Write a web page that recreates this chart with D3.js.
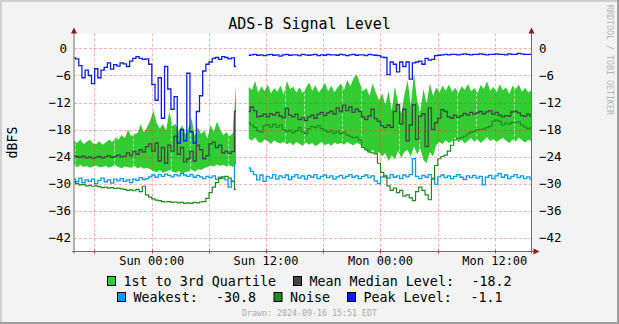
<!DOCTYPE html>
<html>
<head>
<meta charset="utf-8">
<script src="https://cdn.jsdelivr.net/npm/d3@7"></script>
<style>
  html, body { margin: 0; padding: 0; background: #f3f3f3; }
  svg { display: block; font-family: "DejaVu Sans Mono", monospace; }
</style>
</head>
<body>
<svg id="chart" width="619" height="324"></svg>
<script>
// Time window: two days ending at the draw time, one sample every 20 minutes
const startTime = new Date(2024, 8, 14, 15, 51);
const endTime = new Date(2024, 8, 16, 15, 51);
const stepMinutes = 20;

// 3rd quartile (top of the band), dBFS; null = no data
const q3 = [
  -20.5, -21.0, -20.2, -21.3, -20.7, -20.3, -21.1, -21.2, -20.6, -21.4, -20.9, -20.2,
  -20.8, -19.8, -20.3, -19.2, -19.9, -18.0, -19.5, -19.0, -18.8, -16.8, -18.6, -17.5,
  -16.0, -13.8, -16.5, -17.8, -16.8, -18.2, -14.0, -17.2, -16.8, -18.5, -17.0, -19.0,
  -17.8, -15.5, -19.5, -17.5, -19.0, -18.2, -20.0, -17.0, -18.5, -16.2, -18.0, -19.2,
  -18.6, -19.5, -18.8, -8.0, null, null, null, -8.5, -9.2, -7.2, -9.8, -8.4,
  -9.5, -8.0, -10.0, -8.8, -9.6, -8.2, -10.2, -7.2, -9.0, -8.5, -9.8, -8.6,
  -9.9, -8.8, -7.5, -9.4, -8.2, -9.8, -8.9, -7.6, -9.5, -8.3, -9.7, -8.6,
  -7.8, -9.2, -7.0, -8.4, -6.6, -5.8, -7.8, -9.5, -8.8, -10.5, -7.8, -9.8,
  -11.5, -10.0, -12.5, -9.5, -13.8, -8.5, -12.0, -14.5, -10.2, -7.0, -12.8, -5.5,
  -11.5, -14.0, -9.0, -12.2, -7.8, -10.5, -8.6, -9.8, -8.2, -9.4, -8.0, -9.6,
  -8.7, -10.0, -8.4, -9.2, -7.9, -9.5, -8.8, -9.9, -8.1, -9.0, -7.3, -9.4,
  -8.5, -9.7, -8.0, -9.3, -8.6, -10.1, -8.3, -9.0, -8.0, -9.6, -8.7, -9.8,
  -9.2
];

// 1st quartile (bottom of the band)
const q1 = [
  -26.0, -26.4, -25.9, -26.3, -26.1, -26.5, -26.2, -26.0, -26.4, -26.3, -26.1, -26.5,
  -26.2, -26.0, -26.3, -26.6, -26.2, -26.4, -26.5, -26.1, -26.6, -26.3, -26.7, -26.5,
  -26.8, -27.2, -27.5, -27.0, -27.6, -27.3, -27.0, -27.4, -27.6, -27.2, -27.8, -27.5,
  -27.3, -26.9, -27.4, -26.8, -27.0, -26.6, -26.3, -26.0, -26.2, -25.8, -26.1, -25.9,
  -26.2, -26.0, -26.3, -25.5, null, null, null, -20.0, -20.5, -19.8, -20.8, -21.0,
  -20.2, -20.6, -21.2, -20.4, -20.9, -21.1, -20.7, -21.3, -20.9, -21.5, -20.8, -21.2,
  -21.6, -20.9, -21.4, -21.0, -21.7, -21.2, -20.8, -21.5, -21.1, -21.6, -20.9, -21.3,
  -21.0, -21.4, -20.8, -21.2, -21.5, -21.0, -21.3, -22.0, -22.8, -23.2, -22.5, -23.5,
  -23.0, -24.0, -23.2, -25.0, -23.8, -24.6, -22.8, -24.2, -23.0, -22.5, -24.0, -21.8,
  -23.5, -22.2, -24.8, -25.5, -23.0, -24.0, -21.5, -20.8, -21.2, -20.4, -21.0, -20.6,
  -19.8, -20.9, -20.3, -21.1, -20.5, -19.9, -20.7, -20.2, -21.0, -20.4, -19.7, -20.6,
  -20.1, -20.8, -20.3, -19.9, -20.5, -21.0, -20.2, -20.7, -19.8, -20.4, -20.9, -20.3,
  -20.6
];

// Median level
const median = [
  -23.8, -24.0, -24.2, -23.9, -24.3, -24.1, -24.4, -24.2, -24.0, -24.3, -24.1, -23.8,
  -24.2, -24.0, -23.7, -24.1, -23.9, -23.2, -23.8, -22.8, -23.5, -22.5, -23.0, -21.8,
  -21.2, -22.8, -21.0, -25.0, -22.0, -25.5, -21.5, -22.8, -19.5, -23.5, -22.0, -25.2,
  -24.5, -22.8, -25.0, -21.5, -22.5, -24.5, -23.8, -21.2, -20.8, -22.0, -21.5, -23.2,
  -22.8, -23.3, -22.9, -14.0, null, null, null, -14.0, -13.0, -13.8, -15.2, -15.0,
  -14.6, -15.2, -14.5, -14.8, -14.2, -15.0, -15.4, -13.3, -14.8, -15.2, -14.6, -15.8,
  -15.4, -16.0, -15.2, -14.8, -15.5, -14.6, -14.2, -14.9, -14.3, -13.9, -14.6, -13.2,
  -14.0, -12.6, -13.8, -13.0, -14.2, -13.5, -14.0, -15.2, -15.8, -15.0, -13.5, -15.6,
  -16.2, -17.2, -17.6, -17.0, -17.5, -14.0, -12.5, -16.8, -13.5, -20.5, -17.0, -12.5,
  -20.2, -15.0, -14.5, -21.8, -13.2, -18.0, -16.5, -15.5, -13.6, -14.0, -15.2, -15.5,
  -14.8, -15.3, -14.9, -14.4, -14.8, -14.2, -14.6, -14.3, -14.0, -14.5, -14.1, -13.8,
  -14.6, -14.2, -14.8, -15.2, -14.9, -15.0, -14.1, -13.9, -14.3, -14.9, -15.1, -14.6,
  -15.0
];

// Weakest signal
const weakest = [
  -29.0, -29.6, -28.8, -29.8, -29.2, -29.5, -29.0, -30.0, -29.3, -28.8, -29.6, -29.2,
  -29.9, -29.0, -29.4, -28.9, -29.5, -29.2, -29.8, -29.0, -29.3, -28.7, -29.1, -28.9,
  -28.5, -28.1, -28.6, -28.0, -28.4, -27.9, -28.2, -28.5, -28.0, -28.3, -27.8, -28.1,
  -28.4, -28.0, -28.6, -28.2, -28.5, -28.9, -28.4, -28.7, -28.3, -29.0, -28.6, -28.8,
  -29.2, -30.8, -29.4, -25.5, null, null, null, -26.5, -27.3, -28.0, -29.2, -28.1,
  -29.5, -28.4, -28.8, -28.0, -29.0, -28.3, -28.7, -28.1, -29.1, -28.5, -28.0, -28.8,
  -28.3, -29.0, -28.2, -28.6, -28.0, -28.9, -28.4, -28.1, -28.7, -28.3, -29.0, -28.5,
  -28.2, -28.8, -28.4, -28.0, -28.6, -28.3, -28.9, -28.4, -28.1, -28.7, -28.3, -29.4,
  -30.0, -28.5, -28.2, -28.8, -28.0, -28.6, -28.3, -28.9, -28.1, -28.5, -28.0, -24.5,
  -28.4, -28.9, -28.2, -28.6, -28.0, -28.8, -30.2, -28.5, -28.1, -28.7, -28.3, -28.9,
  -28.4, -28.0, -28.6, -29.1, -28.3, -28.7, -28.2, -28.8, -28.4, -30.3, -28.6, -28.2,
  -28.9, -28.3, -27.8, -28.6, -28.1, -28.9, -28.4, -28.0, -28.7, -28.3, -28.9, -28.5,
  -29.0
];

// Noise floor
const noise = [
  -29.7, -30.0, -30.3, -30.2, -30.5, -30.4, -30.6, -30.5, -30.7, -30.9, -30.8, -31.0,
  -30.9, -31.1, -31.0, -31.2, -31.3, -31.5, -31.4, -31.6, -31.3, -31.8, -30.6, -32.5,
  -33.0, -33.4, -33.7, -33.8, -34.0, -34.1, -34.0, -34.2, -34.1, -34.3, -34.2, -34.4,
  -34.3, -34.4, -34.2, -34.3, -34.1, -34.0, -33.3, -32.0, -30.8, -29.8, -28.9, -28.5,
  -28.4, -28.8, -29.6, -31.3, null, null, null, -16.5, -17.0, -17.6, -18.3, -18.6,
  -17.2, -16.9, -17.4, -16.8, -17.5, -17.0, -18.0, -18.4, -18.2, -18.7, -18.3, -17.6,
  -18.5, -18.9, -17.8, -17.3, -17.6, -17.2, -17.8, -18.2, -18.6, -18.3, -18.8, -18.4,
  -18.9, -18.6, -19.2, -19.5, -19.8, -19.7, -20.3, -22.0, -22.5, -23.0, -23.2, -23.4,
  -25.5, -27.5, -28.5, -30.5, -31.5, -31.0, -32.0, -31.5, -32.8, -32.5, -33.2, -33.8,
  -31.8, -30.8, -31.5, -32.5, -33.6, -29.0, -26.0, -24.5, -24.0, -23.7, -22.8, -21.5,
  -20.3, -20.0, -19.8, -19.5, -19.0, -18.6, -18.4, -18.1, -18.0, -17.9, -17.6, -17.3,
  -16.2, -15.9, -16.2, -17.0, -16.6, -16.8, -16.4, -16.5, -16.3, -17.0, -17.4, -17.8,
  -17.6
];

// Peak level
const peak = [
  -2.1, -2.3, -3.8, -6.5, -4.8, -6.0, -7.8, -4.5, -6.5, -4.8, -4.2, -3.2,
  -4.6, -3.6, -3.9, -3.2, -3.4, -4.0, -2.8, -2.2, -1.8, -2.2, -2.4, -2.3,
  -3.5, -8.0, -11.5, -6.5, -15.5, -4.0, -9.0, -13.5, -10.7, -21.0, -18.0, -20.5,
  -5.5, -18.5, -21.0, -14.0, -10.5, -5.0, -3.5, -3.0, -2.2, -2.0, -2.4, -1.8,
  -2.0, -2.3, -2.1, -4.0, null, null, null, -1.5, -1.4, -1.3, -1.5, -1.4,
  -1.6, -1.4, -1.3, -1.5, -1.4, -1.7, -1.4, -1.3, -1.5, -1.4, -1.4, -1.6,
  -1.3, -1.4, -1.5, -1.4, -1.3, -1.6, -1.4, -1.5, -1.3, -1.4, -1.4, -1.5,
  -1.3, -1.4, -1.6, -1.4, -1.3, -1.5, -1.4, -1.4, -1.6, -1.3, -1.4, -1.5,
  -1.6, -1.9, -2.0, -5.8, -3.0, -3.5, -5.2, -3.0, -4.0, -3.0, -6.8, -3.2,
  -3.0, -2.8, -3.5, -2.2, -2.6, -2.4, -1.6, -1.5, -1.4, -1.3, -1.4, -1.3,
  -1.3, -1.4, -1.3, -1.2, -1.3, -1.4, -1.3, -1.3, -1.2, -1.3, -1.4, -1.3,
  -1.3, -1.2, -1.3, -1.3, -1.4, -1.2, -1.3, -1.3, -1.1, -1.2, -1.3, -1.3,
  -1.3
];

// Axis ticks and labels
const yTicks = [0, -6, -12, -18, -24, -30, -36, -42];
const xLabelTimes = ["2024-09-15T00:00", "2024-09-15T12:00", "2024-09-16T00:00", "2024-09-16T12:00"];

// Legend summary values
const meanMedianText = "-18.2";
const weakestText = "-30.8";
const peakText = "-1.1";

const colors = {
  band: "#33cc33",
  median: "#444444",
  weakest: "#0a9be8",
  noise: "#228822",
  peak: "#0b1ef0"
};

const svg = d3.select("#chart");
const W = 619, H = 324;
const plot = { left: 74, right: 531.5, top: 33.5, bottom: 251.5 };

const x = d3.scaleTime().domain([startTime, endTime]).range([plot.left, plot.right]);
const y = d3.scaleLinear().domain([-45.1, 3.33]).range([plot.bottom, plot.top]);

const times = q1.map((_, i) => d3.timeMinute.offset(startTime, i * stepMinutes));
const rows = times.map((t, i) => ({
  t, q1: q1[i], q3: q3[i], median: median[i], weakest: weakest[i], noise: noise[i], peak: peak[i]
}));

// Background and 3D frame
svg.append("rect").attr("width", W).attr("height", H).attr("fill", "#f3f3f3");
svg.append("rect").attr("x", 0).attr("y", 0).attr("width", W).attr("height", 2).attr("fill", "#cfcfcf");
svg.append("rect").attr("x", 0).attr("y", 0).attr("width", 2).attr("height", H).attr("fill", "#cfcfcf");
svg.append("rect").attr("x", 0).attr("y", H - 2).attr("width", W).attr("height", 2).attr("fill", "#9e9e9e");
svg.append("rect").attr("x", W - 2).attr("y", 0).attr("width", 2).attr("height", H).attr("fill", "#9e9e9e");

// Canvas
svg.append("rect")
  .attr("x", plot.left).attr("y", plot.top)
  .attr("width", plot.right - plot.left).attr("height", plot.bottom - plot.top)
  .attr("fill", "#ffffff");

svg.append("clipPath").attr("id", "plotclip")
  .append("rect")
  .attr("x", plot.left).attr("y", plot.top)
  .attr("width", plot.right - plot.left).attr("height", plot.bottom - plot.top);

const g = svg.append("g").attr("clip-path", "url(#plotclip)");

// Quartile band (straight segments between samples give the ragged edge)
const band = d3.area()
  .defined(d => d.q1 != null && d.q3 != null)
  .x(d => x(d.t)).y0(d => y(d.q1)).y1(d => y(d.q3))
  .curve(d3.curveLinear);
g.append("path").datum(rows).attr("d", band).attr("fill", colors.band);

// Grid on top of the band
const majorTimes = d3.timeHour.every(6).range(startTime, endTime);
const minorTimes = d3.timeHour.every(2).range(startTime, endTime)
  .filter(t => t.getHours() % 6 !== 0);

g.selectAll(".minor").data(minorTimes).join("line")
  .attr("x1", d => Math.round(x(d)) + 0.5).attr("x2", d => Math.round(x(d)) + 0.5)
  .attr("y1", plot.top).attr("y2", plot.bottom)
  .attr("stroke", "#ffffff").attr("stroke-opacity", 0.6)
  .attr("stroke-dasharray", "3,2");

g.selectAll(".hgrid").data(yTicks).join("line")
  .attr("x1", plot.left).attr("x2", plot.right)
  .attr("y1", d => Math.round(y(d)) + 0.5).attr("y2", d => Math.round(y(d)) + 0.5)
  .attr("stroke", "#ff2020").attr("stroke-opacity", 0.35)
  .attr("stroke-dasharray", "3,2");

g.selectAll(".vgrid").data(majorTimes).join("line")
  .attr("x1", d => Math.round(x(d)) + 0.5).attr("x2", d => Math.round(x(d)) + 0.5)
  .attr("y1", plot.top).attr("y2", plot.bottom)
  .attr("stroke", "#ff2020").attr("stroke-opacity", 0.35)
  .attr("stroke-dasharray", "3,2");

// Lines
function drawLine(key, color, width) {
  const line = d3.line()
    .defined(d => d[key] != null)
    .x(d => x(d.t)).y(d => y(d[key]))
    .curve(d3.curveStep);
  g.append("path").datum(rows).attr("d", line)
    .attr("fill", "none").attr("stroke", color)
    .attr("stroke-width", width).attr("stroke-linejoin", "miter");
}
drawLine("median", colors.median, 1.3);
drawLine("weakest", colors.weakest, 1.3);
drawLine("noise", colors.noise, 1.2);
drawLine("peak", colors.peak, 1.3);

// Axes
const axisColor = "#6e6e6e";
const arrowColor = "#8b1a1a";
svg.append("line").attr("x1", plot.left - 2).attr("x2", plot.right + 3)
  .attr("y1", plot.bottom).attr("y2", plot.bottom).attr("stroke", axisColor);
svg.append("line").attr("x1", plot.left).attr("x2", plot.left)
  .attr("y1", plot.top - 2).attr("y2", plot.bottom + 2).attr("stroke", axisColor);
svg.append("line").attr("x1", plot.right).attr("x2", plot.right)
  .attr("y1", plot.top - 2).attr("y2", plot.bottom + 2).attr("stroke", axisColor);

// Arrow heads
svg.append("path")
  .attr("d", `M${plot.left - 3},${plot.top} L${plot.left + 3},${plot.top} L${plot.left},${plot.top - 6} Z`)
  .attr("fill", arrowColor);
svg.append("path")
  .attr("d", `M${plot.right - 3},${plot.top} L${plot.right + 3},${plot.top} L${plot.right},${plot.top - 6} Z`)
  .attr("fill", arrowColor);
svg.append("path")
  .attr("d", `M${plot.right + 2},${plot.bottom - 3} L${plot.right + 2},${plot.bottom + 3} L${plot.right + 8},${plot.bottom} Z`)
  .attr("fill", arrowColor);

// X ticks
svg.selectAll(".xtick").data(majorTimes).join("line")
  .attr("x1", d => Math.round(x(d)) + 0.5).attr("x2", d => Math.round(x(d)) + 0.5)
  .attr("y1", plot.bottom - 2).attr("y2", plot.bottom + 2)
  .attr("stroke", "#cc4040");

const fmt = d3.timeFormat("%a %H:%M");
const parse = d3.timeParse("%Y-%m-%dT%H:%M");
svg.selectAll(".xlabel").data(xLabelTimes.map(parse)).join("text")
  .attr("x", d => x(d)).attr("y", 265)
  .attr("text-anchor", "middle").attr("font-size", 12).attr("fill", "#000")
  .text(d => fmt(d));

// Y labels, both sides (the zero label sits a little further in on the left)
svg.selectAll(".ylabelL").data(yTicks).join("text")
  .attr("x", d => d === 0 ? 67 : 71).attr("y", d => y(d) + 4.5)
  .attr("text-anchor", "end").attr("font-size", 12.5).attr("fill", "#000")
  .text(d => d3.format("d")(d));
svg.selectAll(".ylabelR").data(yTicks).join("text")
  .attr("x", 539).attr("y", d => y(d) + 4.5)
  .attr("text-anchor", "start").attr("font-size", 12.5).attr("fill", "#000")
  .text(d => d3.format("d")(d));

// Title and vertical label
svg.append("text").attr("x", 309.5).attr("y", 29)
  .attr("text-anchor", "middle").attr("font-size", 15).attr("fill", "#000")
  .text("ADS-B Signal Level");
svg.append("text")
  .attr("transform", `translate(16.5,${(plot.top + plot.bottom) / 2}) rotate(-90)`)
  .attr("text-anchor", "middle").attr("font-size", 13.3).attr("fill", "#000")
  .text("dBFS");

// Side watermark
svg.append("text")
  .attr("transform", "translate(606.5,5) rotate(90)")
  .attr("font-size", 8.3).attr("fill", "#b4b4b4")
  .text("RRDTOOL / TOBI OETIKER");

// Legend
const legendFont = 13.33;
const legendItems = [
  { row: 0, sx: 107.5, color: colors.band, parts: [{ x: 123.5, t: "1st to 3rd Quartile" }] },
  { row: 0, sx: 293.5, color: colors.median, parts: [{ x: 309.5, t: "Mean Median Level:" }, { x: 471.5, t: meanMedianText }] },
  { row: 1, sx: 117.5, color: colors.weakest, parts: [{ x: 133.5, t: "Weakest:" }, { x: 216, t: weakestText }] },
  { row: 1, sx: 274, color: colors.noise, parts: [{ x: 290, t: "Noise" }] },
  { row: 1, sx: 347.5, color: colors.peak, parts: [{ x: 363.5, t: "Peak Level:" }, { x: 470.5, t: peakText }] }
];
const rowBase = [286, 302];
legendItems.forEach(it => {
  svg.append("rect")
    .attr("x", it.sx).attr("y", rowBase[it.row] - 9.5)
    .attr("width", 8).attr("height", 9)
    .attr("fill", it.color).attr("stroke", "#000").attr("stroke-width", 1);
  it.parts.forEach(p => {
    svg.append("text").attr("x", p.x).attr("y", rowBase[it.row])
      .attr("font-size", legendFont).attr("fill", "#000").text(p.t);
  });
});

// Footer
svg.append("text").attr("x", 309.5).attr("y", 315.5)
  .attr("text-anchor", "middle").attr("font-size", 8.3).attr("fill", "#aaaaaa")
  .text("Drawn: 2024-09-16 15:51 EDT");
</script>
</body>
</html>
